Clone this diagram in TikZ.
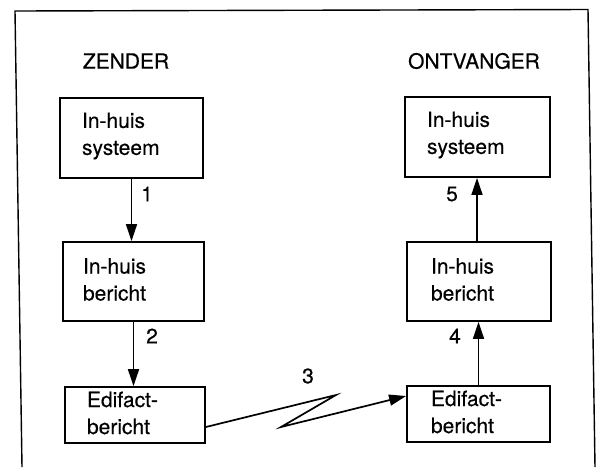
\documentclass[tikz,border=0pt]{standalone}
\usepackage{fontspec}
\setmainfont{TeX Gyre Heros}[UprightFeatures={FakeBold=0.4}]
\usetikzlibrary{arrows.meta}
\begin{document}
\begin{tikzpicture}[x=1pt,y=1pt,
  box/.style={draw,line width=1.8pt,rectangle,inner xsep=0pt,inner ysep=0pt,
     font=\fontsize{21}{27}\selectfont},
  title/.style={font=\fontsize{21}{25}\selectfont},
  num/.style={font=\fontsize{21}{25}\selectfont},
  flow/.style={line width=1.7pt,-{Triangle[length=17pt,width=11pt]}},
  frame/.style={line width=1.4pt}]
\useasboundingbox (0,0) rectangle (597,-467);
% frame
\coordinate (f1) at (22,-467);
\coordinate (f2) at (15,-11);
\coordinate (f3) at (588,-9.5);
\coordinate (f4) at (595,-467);
\draw[frame] (f1) -- (f2) -- (f3) -- (f4);
% titles
\node[title] (zender) at (126,-61) {ZENDER};
\node[title] (ontv) at (474,-61) {ONTVANGER};
% boxes
\node[box,minimum width=143pt,minimum height=80pt] (A1) at (131.5,-138) {};
\node[box,minimum width=141pt,minimum height=79pt] (A2) at (133.5,-281.5) {};
\node[box,minimum width=140pt,minimum height=56pt] (A3) at (135,-415) {};
\node[box,minimum width=145pt,minimum height=80pt] (B1) at (477.5,-137) {};
\node[box,minimum width=144pt,minimum height=79pt] (B2) at (479,-281.5) {};
\node[box,minimum width=143pt,minimum height=56pt] (B3) at (478.5,-414) {};
% box texts
\node[box,draw=none,anchor=west,align=left] (tA1) at ([xshift=22pt,yshift=2pt]A1.west) {In-huis\\systeem};
\node[box,draw=none,anchor=west,align=left] (tA2) at ([xshift=20pt,yshift=2pt]A2.west) {In-huis\\bericht};
\node[box,draw=none,anchor=west,align=left] (tA3) at ([xshift=22pt,yshift=2pt]A3.west) {Edifact-\\bericht};
\node[box,draw=none,anchor=west,align=left] (tB1) at ([xshift=22pt,yshift=2pt]B1.west) {In-huis\\systeem};
\node[box,draw=none,anchor=west,align=left] (tB2) at ([xshift=24pt,yshift=2pt]B2.west) {In-huis\\bericht};
\node[box,draw=none,anchor=west,align=left] (tB3) at ([xshift=24pt,yshift=2pt]B3.west) {Edifact-\\bericht};
% arrows
\draw[flow] (A1.south) -- (A1.south |- A2.north);
\draw[flow] (A2.south) -- (A2.south |- A3.north);
\draw[flow] (B3.north) -- (B3.north |- B2.south);
\draw[flow] ([xshift=-2pt]B2.north) -- ([xshift=-2pt]B2.north |- B1.south);
% zigzag
\coordinate (z1) at (336,-395);
\coordinate (z2) at (281,-427);
\draw[flow,line join=miter] ([yshift=-12pt]A3.east) -- (z1) -- (z2) -- ([yshift=18pt]B3.west);
% labels
\node[num] (n1) at (147,-194) {1};
\node[num] (n2) at (152,-336) {2};
\node[num] (n3) at (308,-376) {3};
\node[num] (n4) at (455,-336) {4};
\node[num] (n5) at (452,-194) {5};
\end{tikzpicture}
\end{document}
